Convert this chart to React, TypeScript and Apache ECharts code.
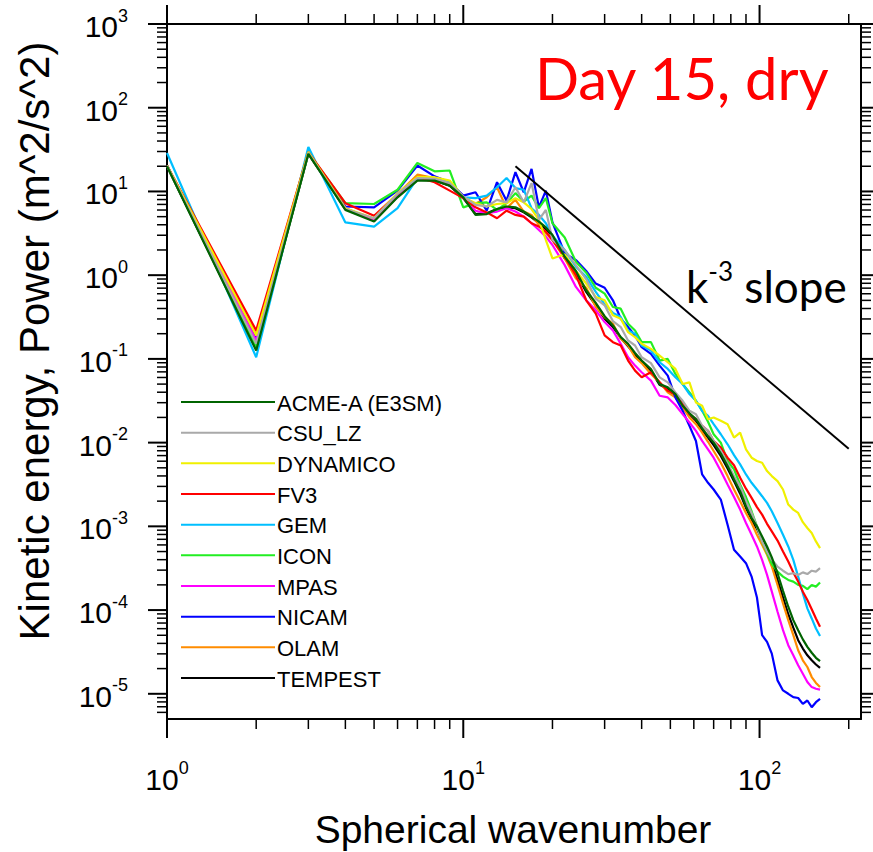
import React, { useEffect, useRef } from 'react';
import * as echarts from 'echarts';

// Spherical wavenumber grid
const K = [1,2,3,4,5,6,7,8,9,10,11,12,13,14,15,16,17,18,19,20,22,24,26,28,30,32,34,36,38,40,43,46,49,52,55,58,61,64,67,70,74,78,82,86,90,94,98,102,106,110,115,120,125,130,135,140,145,150,155,160];

// log10 of kinetic energy power
const acme = [1.30,-0.90,1.45,0.78,0.64,0.93,1.13,1.13,1.07,0.93,0.72,0.73,0.79,0.82,0.81,0.76,0.70,0.64,0.57,0.48,
  0.22,0.05,-0.18,-0.33,-0.49,-0.60,-0.74,-0.82,-0.93,-1.02,
  -1.12,-1.30,-1.34,-1.42,-1.56,-1.65,-1.72,-1.83,-1.92,-2.00,
  -2.13,-2.28,-2.44,-2.58,-2.76,-2.90,-3.00,-3.12,-3.24,-3.37,
  -3.56,-3.77,-3.96,-4.12,-4.24,-4.35,-4.44,-4.51,-4.57,-4.61];
const csu = [1.31,-0.82,1.46,0.79,0.68,0.97,1.16,1.15,1.10,0.94,0.84,0.82,0.90,0.87,1.05,0.87,1.10,0.66,0.78,0.42,
  0.30,0.12,-0.05,-0.28,-0.36,-0.55,-0.62,-0.78,-0.84,-0.98,
  -1.05,-1.22,-1.28,-1.40,-1.50,-1.62,-1.66,-1.80,-1.86,-1.98,
  -2.10,-2.25,-2.40,-2.52,-2.70,-2.84,-3.00,-3.18,-3.30,-3.40,
  -3.48,-3.53,-3.57,-3.56,-3.58,-3.55,-3.57,-3.53,-3.54,-3.50];
const dynamico = [1.31,-0.72,1.47,0.80,0.68,0.98,1.17,1.17,1.13,0.93,0.86,0.82,0.85,0.86,0.92,0.87,0.79,0.66,0.42,0.20,
  0.25,0.05,-0.10,-0.26,-0.30,-0.48,-0.52,-0.68,-0.74,-0.82,
  -0.88,-0.96,-1.04,-1.12,-1.30,-1.28,-1.52,-1.56,-1.72,-1.70,
  -1.74,-1.78,-1.94,-1.88,-2.08,-2.18,-2.22,-2.24,-2.34,-2.40,
  -2.46,-2.56,-2.74,-2.80,-2.84,-2.95,-3.02,-3.08,-3.18,-3.26];
const fv3 = [1.31,-0.66,1.47,0.86,0.71,0.97,1.17,1.11,1.01,0.92,0.81,0.75,0.68,0.77,0.72,0.70,0.62,0.58,0.52,0.42,
  0.22,0.00,-0.30,-0.46,-0.72,-0.80,-0.84,-1.02,-1.14,-1.22,
  -1.16,-1.28,-1.38,-1.42,-1.52,-1.66,-1.72,-1.80,-1.86,-1.98,
  -2.06,-2.18,-2.27,-2.42,-2.55,-2.66,-2.77,-2.86,-2.97,-3.06,
  -3.17,-3.30,-3.42,-3.55,-3.66,-3.78,-3.88,-3.99,-4.10,-4.20];
const gem = [1.46,-0.98,1.53,0.63,0.58,0.80,1.16,1.15,1.11,0.93,0.92,0.95,1.05,1.16,1.04,1.02,0.80,0.72,0.62,0.47,
  0.30,0.10,-0.02,-0.20,-0.35,-0.45,-0.50,-0.66,-0.70,-0.84,
  -0.90,-1.04,-1.12,-1.22,-1.30,-1.42,-1.50,-1.62,-1.68,-1.78,
  -1.90,-2.02,-2.15,-2.26,-2.38,-2.48,-2.56,-2.64,-2.72,-2.82,
  -2.96,-3.10,-3.24,-3.40,-3.60,-3.80,-3.98,-4.10,-4.22,-4.31];
const icon = [1.31,-0.86,1.46,0.86,0.85,1.02,1.34,1.24,1.25,0.81,0.86,0.87,0.78,0.86,0.98,0.88,0.95,0.80,0.92,0.62,
  0.45,0.16,0.03,-0.15,-0.22,-0.38,-0.40,-0.58,-0.66,-0.80,
  -0.80,-1.02,-1.00,-1.18,-1.30,-1.40,-1.50,-1.62,-1.75,-1.90,
  -2.00,-2.22,-2.32,-2.50,-2.65,-2.82,-3.00,-3.18,-3.32,-3.45,
  -3.54,-3.60,-3.64,-3.66,-3.70,-3.71,-3.75,-3.70,-3.72,-3.67];
const mpas = [1.31,-0.78,1.46,0.80,0.66,0.96,1.16,1.14,1.08,0.92,0.77,0.74,0.76,0.80,0.76,0.70,0.62,0.54,0.46,0.36,
  0.12,-0.14,-0.30,-0.42,-0.56,-0.66,-0.82,-0.98,-1.08,-1.16,
  -1.26,-1.44,-1.46,-1.55,-1.66,-1.76,-1.86,-1.98,-2.08,-2.18,
  -2.34,-2.50,-2.65,-2.80,-2.96,-3.10,-3.24,-3.40,-3.58,-3.78,
  -4.02,-4.24,-4.42,-4.54,-4.66,-4.76,-4.86,-4.92,-4.94,-4.95];
const nicam = [1.31,-0.76,1.46,0.82,0.81,1.01,1.31,1.18,1.11,0.95,0.99,0.77,1.11,0.89,1.23,0.99,1.27,0.81,1.01,0.63,
  0.26,0.18,0.05,-0.10,-0.15,-0.30,-0.52,-0.62,-0.72,-0.86,
  -0.94,-1.08,-1.20,-1.46,-1.62,-1.80,-1.98,-2.38,-2.48,-2.56,
  -2.68,-2.98,-3.28,-3.36,-3.44,-3.60,-3.85,-4.30,-4.38,-4.52,
  -4.84,-4.96,-5.00,-5.04,-5.05,-5.12,-5.08,-5.16,-5.10,-5.06];
const olam = [1.31,-0.71,1.47,0.80,0.66,0.97,1.20,1.16,1.10,0.93,0.85,0.93,1.05,0.80,0.90,0.76,0.72,0.60,0.50,0.42,
  0.20,-0.04,-0.15,-0.38,-0.50,-0.58,-0.76,-0.84,-0.98,-1.05,
  -1.18,-1.28,-1.40,-1.46,-1.58,-1.70,-1.78,-1.88,-1.99,-2.10,
  -2.24,-2.40,-2.56,-2.70,-2.84,-2.96,-3.10,-3.22,-3.34,-3.48,
  -3.70,-3.92,-4.12,-4.30,-4.48,-4.60,-4.68,-4.80,-4.87,-4.92];
const tempest = [1.30,-0.88,1.45,0.79,0.65,0.94,1.14,1.13,1.07,0.92,0.73,0.74,0.79,0.81,0.80,0.75,0.69,0.62,0.55,0.47,
  0.20,0.03,-0.20,-0.36,-0.52,-0.62,-0.75,-0.85,-0.95,-1.04,
  -1.14,-1.31,-1.36,-1.44,-1.57,-1.66,-1.74,-1.85,-1.94,-2.03,
  -2.16,-2.31,-2.46,-2.61,-2.78,-2.92,-3.03,-3.16,-3.29,-3.43,
  -3.64,-3.85,-4.05,-4.21,-4.36,-4.46,-4.54,-4.60,-4.65,-4.69];

const MODEL_NAMES = ['ACME-A (E3SM)', 'CSU_LZ', 'DYNAMICO', 'FV3', 'GEM', 'ICON', 'MPAS', 'NICAM', 'OLAM', 'TEMPEST'];
const MODEL_COLORS = ['#006400', '#a9a9a9', '#f0f000', '#ff0000', '#00bfff', '#22ee22', '#ff00ff', '#0000ff', '#ff8c00', '#000000'];
const MODEL_LOG = [acme, csu, dynamico, fv3, gem, icon, mpas, nicam, olam, tempest];

// k^-3 reference line end points
const SLOPE_LINE = [[15, 20], [200, 0.00844]];

const X_MIN = 1;
const X_MAX = 220;
const Y_MIN = 5e-6;
const Y_MAX = 1000;
const X_DECADES = [1, 10, 100];
const Y_DECADES = [1e-6, 1e-5, 1e-4, 1e-3, 1e-2, 1e-1, 1, 10, 100, 1000];
const MINOR_MULT = [2, 3, 4, 5, 6, 7, 8, 9];

const FONT = 'Liberation Sans, Arial, Helvetica, sans-serif';
const CAL = 'Lato, Carlito, Calibri, sans-serif';

function expLabel(v: number) {
  const l = Math.log10(v);
  const e = Math.round(l);
  if (Math.abs(l - e) > 1e-6) return '';
  return '{b|10}{e|' + e + '}';
}

const labelRich = {
  b: { fontSize: 30, fontFamily: FONT, color: '#000', padding: [5, 0, 0, 0] },
  e: { fontSize: 18, fontFamily: FONT, color: '#000', verticalAlign: 'top' },
};

export default function App() {
  const ref = useRef<HTMLDivElement>(null);

  useEffect(() => {
    document.body.style.margin = '0';
    if (!ref.current) return;
    const chart = echarts.init(ref.current, undefined, { renderer: 'svg' });

    // tick marks: [x, y, side, length, width]
    const ticks: number[][] = [];
    X_DECADES.forEach((d) => {
      if (d >= X_MIN && d <= X_MAX) {
        ticks.push([d, Y_MIN, 0, 19, 2]);
        ticks.push([d, Y_MIN, 1, 19, 2]);
      }
      MINOR_MULT.forEach((m) => {
        const v = d * m;
        if (v > X_MIN && v < X_MAX) {
          ticks.push([v, Y_MIN, 0, 10, 1.5]);
          ticks.push([v, Y_MIN, 1, 10, 1.5]);
        }
      });
    });
    Y_DECADES.forEach((d) => {
      if (d >= Y_MIN && d <= Y_MAX) {
        ticks.push([X_MIN, d, 2, 19, 2]);
        ticks.push([X_MIN, d, 3, 19, 2]);
      }
      MINOR_MULT.forEach((m) => {
        const v = d * m;
        if (v >= Y_MIN && v < Y_MAX) {
          ticks.push([X_MIN, v, 2, 10, 1.5]);
          ticks.push([X_MIN, v, 3, 10, 1.5]);
        }
      });
    });

    const modelSeries = MODEL_NAMES.map((name, i) => ({
      type: 'line',
      name,
      data: K.map((k, j) => [k, Math.pow(10, MODEL_LOG[i][j])]),
      showSymbol: false,
      symbol: 'none',
      silent: true,
      lineStyle: { color: MODEL_COLORS[i], width: 2.2 },
      itemStyle: { color: MODEL_COLORS[i] },
      z: 20 - i,
    }));

    const legendEls: any[] = [];
    MODEL_NAMES.forEach((name, i) => {
      const y = 402 + i * 30.67;
      legendEls.push({
        type: 'line',
        shape: { x1: 181, y1: y, x2: 275, y2: y },
        style: { stroke: MODEL_COLORS[i], lineWidth: 2 },
        z: 100,
      });
      legendEls.push({
        type: 'text',
        x: 277,
        y: y + 1,
        style: { text: name, fontSize: 22, fontFamily: FONT, fill: '#000', align: 'left', verticalAlign: 'middle' },
        z: 100,
      });
    });

    const axisCommon = {
      type: 'log',
      logBase: 10,
      splitLine: { show: false },
      axisTick: { show: false },
      minorTick: { show: false },
      axisLine: { show: true, onZero: false, lineStyle: { color: '#000', width: 2 } },
    };

    chart.setOption({
      animation: false,
      backgroundColor: '#ffffff',
      grid: { left: 167, right: 12, top: 24, bottom: 133, containLabel: false },
      xAxis: [
        {
          ...axisCommon,
          position: 'bottom',
          min: X_MIN,
          max: X_MAX,
          axisLabel: { show: true, margin: 40, formatter: expLabel, rich: labelRich },
        },
        {
          ...axisCommon,
          position: 'top',
          min: X_MIN,
          max: X_MAX,
          axisLabel: { show: false },
        },
      ],
      yAxis: [
        {
          ...axisCommon,
          position: 'left',
          min: Y_MIN,
          max: Y_MAX,
          axisLabel: { show: true, margin: 39, formatter: expLabel, rich: labelRich },
        },
        {
          ...axisCommon,
          position: 'right',
          min: Y_MIN,
          max: Y_MAX,
          axisLabel: { show: false },
        },
      ],
      series: [
        ...modelSeries,
        {
          type: 'line',
          name: 'k-3 slope',
          data: SLOPE_LINE,
          showSymbol: false,
          symbol: 'none',
          silent: true,
          lineStyle: { color: '#000', width: 2 },
          z: 30,
        },
        {
          type: 'custom',
          name: 'ticks',
          silent: true,
          clip: false,
          data: ticks,
          encode: { x: 0, y: 1 },
          z: 40,
          renderItem: (params: any, api: any) => {
            const xv = api.value(0);
            const yv = api.value(1);
            const side = api.value(2);
            const len = api.value(3);
            const w = api.value(4);
            let x1 = 0, y1 = 0, x2 = 0, y2 = 0;
            if (side === 0) {
              const p = api.coord([xv, Y_MIN]);
              x1 = p[0]; y1 = p[1]; x2 = p[0]; y2 = p[1] + len;
            } else if (side === 1) {
              const p = api.coord([xv, Y_MAX]);
              x1 = p[0]; y1 = p[1]; x2 = p[0]; y2 = p[1] - len;
            } else if (side === 2) {
              const p = api.coord([X_MIN, yv]);
              x1 = p[0]; y1 = p[1]; x2 = p[0] - len; y2 = p[1];
            } else {
              const p = api.coord([X_MAX, yv]);
              x1 = p[0]; y1 = p[1]; x2 = p[0] + len; y2 = p[1];
            }
            return {
              type: 'line',
              shape: { x1, y1, x2, y2 },
              style: { stroke: '#000', lineWidth: w },
            };
          },
        },
      ],
      graphic: [
        ...legendEls,
        {
          type: 'text',
          x: 34,
          y: 341,
          rotation: Math.PI / 2,
          style: {
            text: 'Kinetic energy, Power (m^2/s^2)',
            fontSize: 42,
            fontFamily: FONT,
            fill: '#000',
            align: 'center',
            verticalAlign: 'middle',
          },
        },
        {
          type: 'text',
          x: 513,
          y: 829,
          style: {
            text: 'Spherical wavenumber',
            fontSize: 39,
            fontFamily: FONT,
            fill: '#000',
            align: 'center',
            verticalAlign: 'middle',
          },
        },
        {
          type: 'text',
          x: 535,
          y: 77,
          style: {
            text: 'Day 15, dry',
            fontSize: 58,
            fontFamily: CAL,
            fill: '#ff0000',
            align: 'left',
            verticalAlign: 'middle',
          },
        },
        {
          type: 'text',
          x: 686,
          y: 283,
          style: {
            text: '{k|k}{e|-3}{s| slope}',
            fontFamily: CAL,
            fill: '#000',
            align: 'left',
            verticalAlign: 'middle',
            rich: {
              k: { fontSize: 44, fontFamily: CAL, fill: '#000', padding: [6, 0, 0, 0] },
              e: { fontSize: 26, fontFamily: CAL, fill: '#000', verticalAlign: 'top' },
              s: { fontSize: 44, fontFamily: CAL, fill: '#000', padding: [6, 0, 0, 0] },
            },
          },
        },
      ],
    });

    return () => {
      chart.dispose();
    };
  }, []);

  return <div ref={ref} style={{ width: 873, height: 852 }} />;
}
